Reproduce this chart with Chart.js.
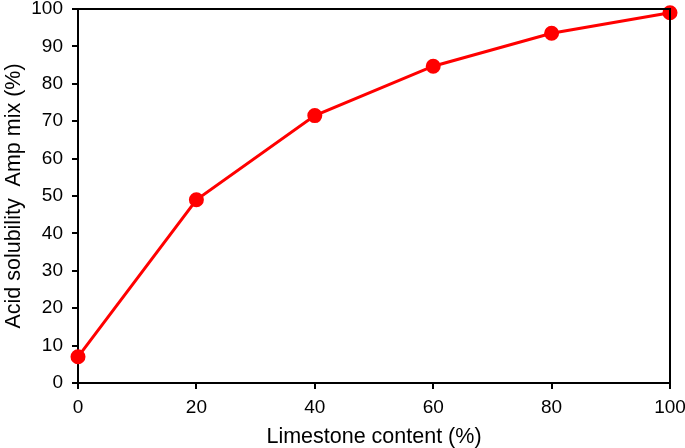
<!DOCTYPE html>
<html><head><meta charset="utf-8">
<script src="https://cdn.jsdelivr.net/npm/chart.js@4"></script>
<style>html,body{margin:0;padding:0;background:#fff}#wrap{width:685px;height:448px}</style>
</head><body><div id="wrap"><canvas id="c" width="685" height="448"></canvas></div>
<script>
const limestone = [0, 20, 40, 60, 80, 100];
const solubility = [7, 49, 71.5, 84.7, 93.5, 99];
const xTitle = 'Limestone content (%)';
const yTitle = 'Acid solubility  Amp mix (%)';

const frame = {
  id: 'frame',
  afterDatasetsDraw(chart) {
    const {ctx, chartArea: a} = chart;
    ctx.save();
    ctx.strokeStyle = '#000';
    ctx.lineWidth = 2;
    ctx.beginPath();
    ctx.moveTo(a.left, a.top);
    ctx.lineTo(a.right, a.top);
    ctx.lineTo(a.right, a.bottom);
    ctx.stroke();
    ctx.restore();
  }
};

new Chart(document.getElementById('c'), {
  type: 'scatter',
  data: {
    datasets: [{
      data: limestone.map((x, i) => ({x, y: solubility[i]})),
      showLine: true,
      borderColor: '#ff0000',
      backgroundColor: '#ff0000',
      borderWidth: 3,
      pointRadius: 6,
      pointHoverRadius: 6,
      clip: false
    }]
  },
  options: {
    responsive: false,
    animation: false,
    devicePixelRatio: 1,
    layout: {padding: 0},
    plugins: {legend: {display: false}, tooltip: {enabled: false}},
    scales: {
      x: {
        type: 'linear', min: 0, max: 100,
        afterFit(s) { s.height = 65; s.paddingRight = 15; },
        ticks: {stepSize: 20, color: '#000', font: {family: 'Liberation Sans', size: 19}, padding: 7},
        grid: {drawOnChartArea: false, drawTicks: true, tickLength: 6, color: '#000', lineWidth: 2},
        border: {color: '#000', width: 2},
        title: {display: true, text: xTitle, color: '#000', font: {family: 'Liberation Sans', size: 21.5, lineHeight: 1.05}, padding: {top: 2, bottom: 0}}
      },
      y: {
        type: 'linear', min: 0, max: 100,
        afterFit(s) { s.width = 78; s.paddingTop = 8; },
        ticks: {stepSize: 10, color: '#000', font: {family: 'Liberation Sans', size: 19}, padding: 9},
        grid: {drawOnChartArea: false, drawTicks: true, tickLength: 6, color: '#000', lineWidth: 2},
        border: {color: '#000', width: 2},
        title: {display: true, text: yTitle, color: '#000', font: {family: 'Liberation Sans', size: 21.5}, padding: {top: 1, bottom: 2}}
      }
    }
  },
  plugins: [frame]
});
</script></body></html>
